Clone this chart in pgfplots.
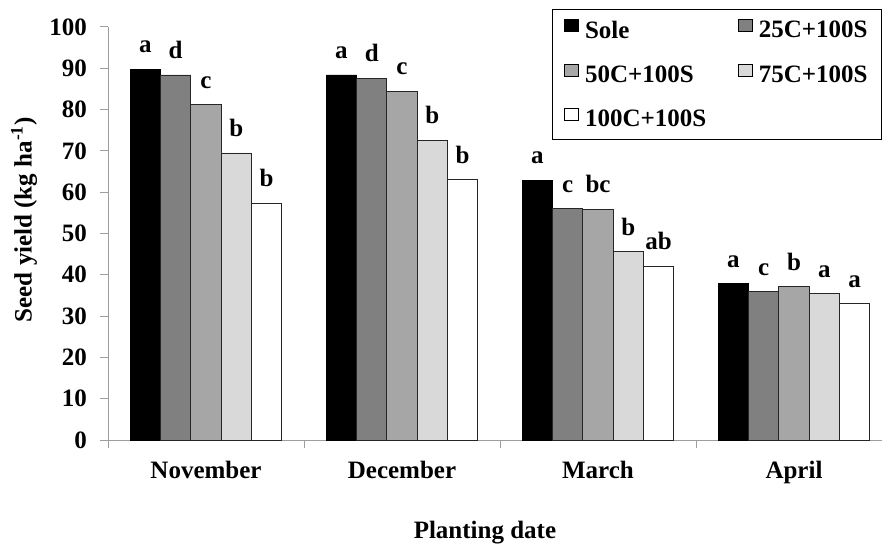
\documentclass[border=0pt]{standalone}
\usepackage{fontspec}
\setmainfont{Liberation Serif}
\usepackage{pgfplots}
\usepackage{pgfplotstable}
\pgfplotsset{compat=1.18}
\definecolor{c25}{gray}{0.5}
\definecolor{c50}{gray}{0.65}
\definecolor{c75}{gray}{0.85}
\definecolor{axgray}{gray}{0.62}
\newcommand{\cf}{\fontsize{25pt}{29pt}\selectfont\bfseries}

\pgfplotstableread{
x y lab
1 89.8 a
2 88.4 a
3 62.9 a
4 37.8 a
}\sole
\pgfplotstableread{
x y lab
1 88.4 d
2 87.6 d
3 56.0 c
4 35.9 c
}\ctwentyfive
\pgfplotstableread{
x y lab
1 81.2 c
2 84.4 c
3 55.8 bc
4 37.1 b
}\cfifty
\pgfplotstableread{
x y lab
1 69.5 b
2 72.6 b
3 45.6 b
4 35.4 a
}\cseventyfive
\pgfplotstableread{
x y lab
1 57.3 b
2 63.0 b
3 42.0 ab
4 33.0 a
}\chundred

\begin{document}
\begin{tikzpicture}[font=\cf]
\begin{axis}[
  scale only axis, width=774pt, height=413pt,
  xmin=0.5, xmax=4.449, ymin=0, ymax=100,
  ybar=0pt, bar width=30.3pt,
  axis x line*=bottom, axis y line*=left,
  axis line style={axgray, line width=1pt},
  ytick={0,10,...,100},
  tick align=outside, major tick length=8pt,
  tick style={axgray, line width=1pt},
  xtick={1,2,3,4},
  xticklabels={November,December,March,April},
  xtick style={draw=none},
  extra x ticks={0.5,1.5,2.5,3.5},
  extra x tick labels={},
  extra x tick style={xtick style={draw=axgray, line width=1pt}},
  /pgf/number format/assume math mode=true,
  ticklabel style={font=\cf},
  yticklabel style={inner sep=0pt, xshift=-13pt},
  xticklabel style={inner sep=0pt, yshift=-13pt},
  xlabel={Planting date},
  xlabel style={at={(axis description cs:0.487,-0.197)}, anchor=north, inner sep=0pt},
  ylabel={Seed yield (kg ha\textsuperscript{-1})},
  ylabel style={at={(axis description cs:-0.1085,0.533)}, anchor=center, inner sep=0pt},
  nodes near coords,
  point meta=explicit symbolic,
  every node near coord/.append style={font=\cf, inner sep=0pt, anchor=south, yshift=16pt},
  legend columns=2,
  legend style={at={(rel axis cs:1,1.043)}, anchor=north east, draw=black, line width=1pt,
    font=\cf,
    /tikz/every even column/.append style={column sep=30pt},
    row sep=22pt, inner xsep=12pt, inner ysep=9pt,
    cells={anchor=west}},
  every axis plot post/.append style={legend image code/.code={\draw[#1, draw=black, line width=0.6pt] (0pt,-1pt) rectangle (14pt,11pt);}},
  clip=false,
]
\addplot[fill=black, draw=black, line width=0.8pt] table[x=x, y=y, meta=lab] {\sole};
\addplot[fill=c25, draw=black!85, line width=0.8pt] table[x=x, y=y, meta=lab] {\ctwentyfive};
\addplot[fill=c50, draw=black!85, line width=0.8pt] table[x=x, y=y, meta=lab] {\cfifty};
\addplot[fill=c75, draw=black!85, line width=0.8pt] table[x=x, y=y, meta=lab] {\cseventyfive};
\addplot[fill=white, draw=black!85, line width=0.8pt] table[x=x, y=y, meta=lab] {\chundred};
\legend{\hspace{4pt}Sole,\hspace{4pt}25C+100S,\hspace{4pt}50C+100S,\hspace{4pt}75C+100S,\hspace{4pt}100C+100S}
\coordinate (o) at (rel axis cs:0,0);
\end{axis}
\pgfresetboundingbox
\path[use as bounding box] (o) ++(-108pt,-103pt) rectangle ++(882pt,543pt);
\end{tikzpicture}
\end{document}
